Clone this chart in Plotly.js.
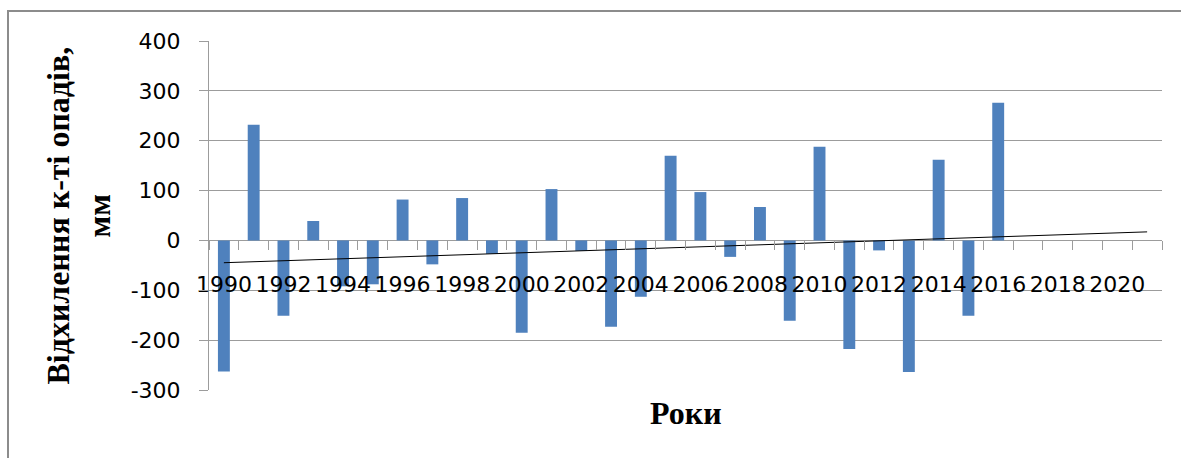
<!DOCTYPE html>
<html>
<head>
<meta charset="utf-8">
<script src="https://cdn.plot.ly/plotly-3.0.1.min.js"></script>
<style>
html, body { margin: 0; padding: 0; background: #fff; overflow: hidden; }
#chart { width: 1181px; height: 458px; }
#frame { position: absolute; left: 7px; top: 10px; width: 1200px; height: 500px;
  border-left: 2px solid #8c8c8c; border-top: 2px solid #8c8c8c; pointer-events: none; }
</style>
</head>
<body>
<div id="chart"></div>
<div id="frame"></div>
<script>
// ---- data ----
const years = [1990, 1991, 1992, 1993, 1994, 1995, 1996, 1997, 1998, 1999,
               2000, 2001, 2002, 2003, 2004, 2005, 2006, 2007, 2008, 2009,
               2010, 2011, 2012, 2013, 2014, 2015, 2016];
const deviation = [-263, 232, -151, 39, -92, -88, 82, -48, 85, -27,
                   -185, 103, -21, -173, -113, 170, 97, -33, 67, -161,
                   188, -218, -20, -264, 162, -151, 276];
const axisYears = [1990, 2021];          // category span of the axis (trend forecast to 2021)
const xTickLabels = ['1990','1992','1994','1996','1998','2000','2002','2004',
                     '2006','2008','2010','2012','2014','2016','2018','2020'];
const yTickValues = [-300, -200, -100, 0, 100, 200, 300, 400];
const yTickLabels = ['-300', '-200', '-100', '0', '100', '200', '300', '400'];
const yTitle = 'Відхилення к-ті опадів,<br>мм';
const xTitle = 'Роки';

// ---- linear trend (least squares) over the data, extended to the last axis year ----
const n = years.length;
const mx = years.reduce((a, b) => a + b, 0) / n;
const my = deviation.reduce((a, b) => a + b, 0) / n;
let sxy = 0, sxx = 0;
for (let i = 0; i < n; i++) { sxy += (years[i] - mx) * (deviation[i] - my); sxx += (years[i] - mx) ** 2; }
const slope = sxy / sxx;
const trendX = [years[0], axisYears[1]];
const trendY = trendX.map(x => my + slope * (x - mx));

const boundaries = [];
for (let v = axisYears[0] - 0.5; v <= axisYears[1] + 0.5; v += 1) boundaries.push(v);
const xRange = [axisYears[0] - 0.5, axisYears[1] + 0.5];
const zeroPos = (0 - yTickValues[0]) / (yTickValues[yTickValues.length - 1] - yTickValues[0]);

const gridColor = '#9c9c9c';
const tickFont = { family: 'DejaVu Sans', size: 22, color: '#000' };
const titleFont = { family: 'Liberation Serif', size: 32, color: '#000', weight: 700 };

const traces = [
  { type: 'bar', x: years, y: deviation, width: 0.4, xaxis: 'x', yaxis: 'y',
    marker: { color: '#4f81bd', line: { width: 0 } }, hoverinfo: 'x+y' },
  { type: 'scatter', mode: 'lines', x: trendX, y: trendY, xaxis: 'x', yaxis: 'y',
    line: { color: '#000', width: 1 }, hoverinfo: 'skip' },
  { type: 'scatter', mode: 'markers', x: [years[0]], y: [0], xaxis: 'x2', yaxis: 'y',
    marker: { opacity: 0 }, hoverinfo: 'skip' }
];

const layout = {
  width: 1181, height: 458,
  margin: { l: 209, r: 19, t: 41, b: 68 },
  paper_bgcolor: '#fff', plot_bgcolor: '#fff',
  showlegend: false,
  font: tickFont,
  xaxis: {
    type: 'linear', range: xRange, anchor: 'free', position: zeroPos,
    tickvals: xTickLabels.map(Number), ticktext: xTickLabels,
    ticks: '', showgrid: false, zeroline: false, showline: false,
    ticklabelstandoff: 29, tickfont: tickFont
  },
  xaxis2: {
    type: 'linear', range: xRange, overlaying: 'x', anchor: 'free', position: zeroPos,
    tickvals: boundaries, ticks: 'outside', ticklen: 9, tickwidth: 1, tickcolor: gridColor,
    showticklabels: false, showgrid: false, zeroline: false, showline: false
  },
  yaxis: {
    range: [yTickValues[0], yTickValues[yTickValues.length - 1]],
    tickvals: yTickValues, ticktext: yTickLabels,
    ticks: 'outside', ticklen: 9, tickwidth: 1, tickcolor: gridColor,
    showgrid: true, gridcolor: gridColor, gridwidth: 1,
    showline: true, linecolor: gridColor, linewidth: 1,
    zeroline: false, ticklabelstandoff: 14, tickfont: tickFont
  },
  annotations: [
    { text: yTitle, textangle: -90, xref: 'paper', yref: 'paper',
      x: (78 - 209) / 953, y: 0.5, xanchor: 'center', yanchor: 'middle',
      showarrow: false, font: titleFont },
    { text: xTitle, xref: 'paper', yref: 'paper',
      x: 0.5, y: (390 - 413) / 349, xanchor: 'center', yanchor: 'middle',
      showarrow: false, font: titleFont }
  ]
};

Plotly.newPlot('chart', traces, layout, { displayModeBar: false, staticPlot: true });
</script>
</body>
</html>
